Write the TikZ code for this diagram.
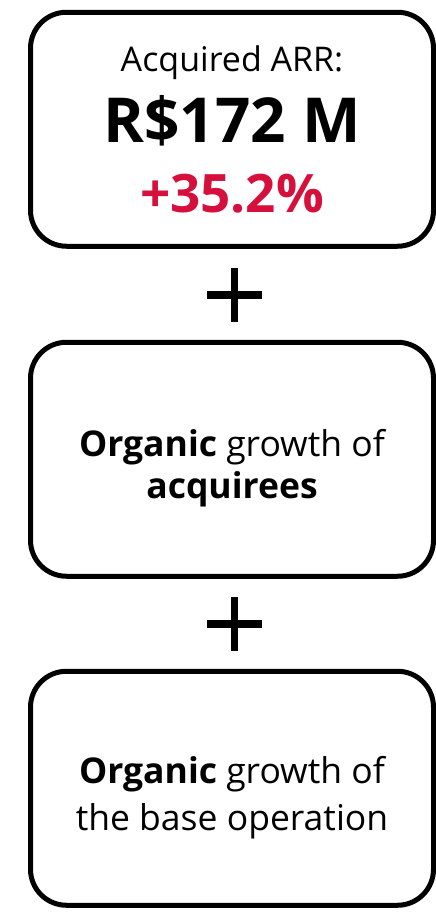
\documentclass[tikz,border=0pt]{standalone}
\usepackage{fontspec}
\setmainfont{Open Sans}
\usepackage{xcolor}
\usetikzlibrary{positioning}
\definecolor{gainred}{RGB}{214,16,60}
\tikzstyle{card} = [draw, line width=5pt, rounded corners=36pt,
    minimum width=403pt, minimum height=234pt, align=center,
    inner sep=0pt, outer sep=0pt]
\tikzstyle{plus} = [minimum width=55pt, minimum height=54pt, inner sep=0pt,
    outer sep=0pt, path picture={
      \fill ([xshift=-3.5pt]path picture bounding box.north) rectangle
            ([xshift=3.5pt]path picture bounding box.south);
      \fill ([yshift=-4pt]path picture bounding box.west) rectangle
            ([yshift=4pt]path picture bounding box.east);}]
% size #1, fixed line pitch #2
\newcommand{\txt}[2]{\fontsize{#1}{#2}\selectfont}
% tall invisible strut, sinks the two-line texts a little
\newcommand{\sink}{\rule{0pt}{46pt}}

\begin{document}
\begin{tikzpicture}[x=1pt, y=1pt, node distance=22pt]
  \useasboundingbox (0,0) rectangle (436,-916);

  % ARR brought in by acquisitions
  \node[card, font=\txt{34pt}{69pt}] (acq) at (232,-129.25)
    {\txt{34pt}{69pt}Acquired ARR:\\[2pt]
     \txt{62pt}{69pt}\bfseries R\$172 M\\[1pt]
     \txt{53pt}{69pt}\bfseries\color{gainred}+35.2\%};

  \node[plus, below=of acq, xshift=2.5pt] (plus1) {};

  % organic growth, acquired companies
  \node[card, below=20pt of plus1, xshift=-2.5pt, font=\txt{35.5pt}{42pt}] (acqorg)
    {\sink\textbf{Organic} growth of\\
     \textbf{acquirees}};

  \node[plus, below=21pt of acqorg, xshift=2.5pt] (plus2) {};

  % organic growth, base business
  \node[card, below=20pt of plus2, xshift=-2.5pt, font=\txt{35.5pt}{47pt}] (baseorg)
    {\sink\textbf{Organic} growth of\\
     the base operation};
\end{tikzpicture}
\end{document}
